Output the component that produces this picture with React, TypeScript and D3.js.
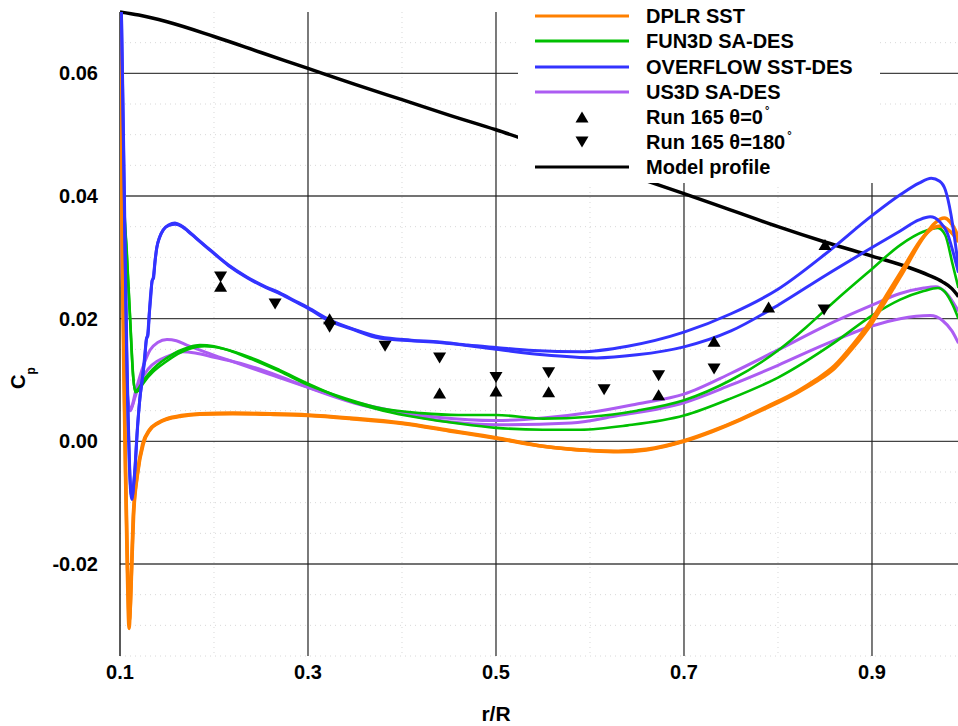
import React from "react";
import * as d3 from "d3";

const W = 958;
const H = 726;

// axis ticks
const xMajorTicks = [0.1, 0.3, 0.5, 0.7, 0.9];
const xTickLabels = ["0.1", "0.3", "0.5", "0.7", "0.9"];
const xMinorTicks = [0.2, 0.4, 0.6, 0.8];
const yMajorTicks = [-0.02, 0.0, 0.02, 0.04, 0.06];
const yTickLabels = ["-0.02", "0.00", "0.02", "0.04", "0.06"];
const yMinorTicks = [-0.035, -0.03, -0.025, -0.015, -0.01, -0.005, 0.005, 0.01, 0.015, 0.025, 0.03, 0.035, 0.045, 0.05, 0.055, 0.065];

// DPLR SST (two curves)
const dplrA: [number, number][] = [
  [0.1005, 0.07], [0.1012, 0.05], [0.1025, 0.03], [0.104, 0.012], [0.1058, -0.005], [0.1074, -0.018],
  [0.1088, -0.028], [0.1097, -0.0305], [0.1107, -0.028], [0.1122, -0.021], [0.114, -0.0125], [0.118, -0.0058],
  [0.124, -0.0005], [0.131, 0.0018], [0.14, 0.003], [0.15, 0.0037], [0.165, 0.0042], [0.185, 0.0045],
  [0.22, 0.0046], [0.26, 0.0045], [0.3, 0.0043], [0.345, 0.0038], [0.4, 0.003], [0.45, 0.0018], [0.5, 0.0006],
  [0.55, -0.0008], [0.6, -0.0015], [0.63, -0.0017], [0.66, -0.0014], [0.7, 0.0], [0.73, 0.0016], [0.76, 0.0035],
  [0.79, 0.0056], [0.82, 0.0079], [0.84, 0.0097], [0.86, 0.0119], [0.88, 0.0153], [0.9, 0.0193], [0.915, 0.023],
  [0.93, 0.0268], [0.955, 0.0333], [0.967, 0.0356], [0.977, 0.0364], [0.983, 0.0358], [0.988, 0.0346], [0.992, 0.0332],
];
const dplrB: [number, number][] = [
  [0.1005, 0.07], [0.1014, 0.05], [0.1028, 0.03], [0.1043, 0.012], [0.106, -0.005], [0.1077, -0.018],
  [0.1091, -0.027], [0.11, -0.0292], [0.111, -0.027], [0.1125, -0.0205], [0.1145, -0.012], [0.1185, -0.0055],
  [0.125, -0.0003], [0.132, 0.0019], [0.141, 0.003], [0.15, 0.0036], [0.165, 0.0041], [0.185, 0.0044],
  [0.22, 0.0045], [0.26, 0.0044], [0.3, 0.0042], [0.345, 0.0037], [0.4, 0.0029], [0.45, 0.0017], [0.5, 0.0005],
  [0.55, -0.0008], [0.6, -0.0015], [0.63, -0.0016], [0.66, -0.0013], [0.7, 0.0001], [0.73, 0.0017], [0.76, 0.0036],
  [0.79, 0.0058], [0.82, 0.0081], [0.84, 0.01], [0.86, 0.0123], [0.88, 0.0158], [0.9, 0.0199], [0.915, 0.0237],
  [0.93, 0.0274], [0.955, 0.0334], [0.965, 0.0348], [0.973, 0.0351], [0.98, 0.0346], [0.986, 0.0338], [0.992, 0.0325],
];

// FUN3D SA-DES (two curves)
const fun3dA: [number, number][] = [
  [0.1008, 0.07], [0.102, 0.055], [0.104, 0.04], [0.107, 0.031], [0.1106, 0.0203], [0.114, 0.0105],
  [0.116, 0.0082], [0.119, 0.0085], [0.124, 0.0097], [0.132, 0.0113], [0.14, 0.0125], [0.15, 0.0136],
  [0.162, 0.0147], [0.174, 0.0154], [0.185, 0.0157], [0.2, 0.0155], [0.22, 0.0146], [0.24, 0.0134],
  [0.27, 0.0114], [0.3, 0.0092], [0.34, 0.007], [0.38, 0.0053], [0.42, 0.0046], [0.46, 0.0043], [0.5, 0.0043],
  [0.55, 0.0037], [0.6, 0.004], [0.65, 0.005], [0.7, 0.0067], [0.75, 0.01], [0.8, 0.0148], [0.83, 0.0186],
  [0.86, 0.0228], [0.9, 0.0281], [0.93, 0.032], [0.955, 0.0342], [0.97, 0.0348], [0.978, 0.0336],
  [0.986, 0.0287], [0.992, 0.025],
];
const fun3dB: [number, number][] = [
  [0.1008, 0.07], [0.1022, 0.055], [0.1042, 0.04], [0.1072, 0.031], [0.1108, 0.02], [0.1142, 0.0103],
  [0.1162, 0.008], [0.12, 0.0083], [0.124, 0.0093], [0.15, 0.0131], [0.174, 0.0151], [0.19, 0.0155],
  [0.21, 0.0151], [0.24, 0.0136], [0.27, 0.0116], [0.3, 0.0094], [0.34, 0.0068], [0.38, 0.005], [0.42, 0.0038],
  [0.46, 0.0029], [0.5, 0.0022], [0.55, 0.0019], [0.59, 0.0019], [0.64, 0.0026], [0.7, 0.0042], [0.75, 0.007],
  [0.8, 0.0104], [0.86, 0.0161], [0.9, 0.0205], [0.93, 0.0231], [0.955, 0.0245], [0.97, 0.025], [0.978, 0.0243],
  [0.986, 0.0222], [0.992, 0.02],
];

// OVERFLOW SST-DES (two curves)
const overflowA: [number, number][] = [
  [0.1015, 0.07], [0.103, 0.055], [0.1045, 0.04], [0.1053, 0.031], [0.107, 0.015], [0.1085, 0.004],
  [0.11, -0.004], [0.1115, -0.0085], [0.1128, -0.0095], [0.1142, -0.0075], [0.116, -0.0042], [0.118, 0.001],
  [0.121, 0.0068], [0.124, 0.0105], [0.126, 0.0135], [0.128, 0.0165], [0.1295, 0.0175], [0.131, 0.0205],
  [0.1325, 0.0238], [0.134, 0.026], [0.1355, 0.0268], [0.137, 0.029], [0.139, 0.0315], [0.142, 0.0332],
  [0.146, 0.0345], [0.152, 0.0353], [0.1585, 0.0356], [0.165, 0.0352], [0.171, 0.0345], [0.18, 0.0333],
  [0.196, 0.0312], [0.215, 0.0288], [0.235, 0.0268], [0.255, 0.0252], [0.27, 0.0242], [0.285, 0.023],
  [0.3, 0.0218], [0.323, 0.0198], [0.35, 0.0182], [0.377, 0.017], [0.41, 0.0165], [0.44, 0.0162],
  [0.47, 0.0157], [0.5, 0.0153], [0.54, 0.0148], [0.59, 0.0146], [0.64, 0.0155], [0.7, 0.0178], [0.75, 0.0208],
  [0.8, 0.0248], [0.85, 0.0305], [0.9, 0.0368], [0.93, 0.0402], [0.95, 0.0421], [0.963, 0.0429], [0.972, 0.0424],
  [0.978, 0.041], [0.984, 0.037], [0.988, 0.033], [0.992, 0.0285],
];
const overflowB: [number, number][] = [
  [0.1015, 0.07], [0.1032, 0.055], [0.1047, 0.04], [0.1055, 0.031], [0.1072, 0.015], [0.1087, 0.004],
  [0.1102, -0.004], [0.1117, -0.0083], [0.113, -0.0092], [0.1144, -0.0073], [0.1162, -0.004], [0.1182, 0.0012],
  [0.1212, 0.007], [0.1242, 0.0107], [0.1262, 0.0132], [0.1282, 0.0168], [0.1297, 0.0172], [0.1312, 0.0208],
  [0.1327, 0.0235], [0.1342, 0.0262], [0.1357, 0.0266], [0.1372, 0.0292], [0.1392, 0.0316], [0.1422, 0.0333],
  [0.1462, 0.0345], [0.1522, 0.0352], [0.159, 0.0354], [0.166, 0.035], [0.172, 0.0343], [0.181, 0.0331],
  [0.197, 0.031], [0.216, 0.0286], [0.236, 0.0266], [0.256, 0.025], [0.271, 0.024], [0.286, 0.0228],
  [0.301, 0.0216], [0.323, 0.0196], [0.345, 0.0184], [0.377, 0.0168], [0.41, 0.0164], [0.44, 0.0161],
  [0.5, 0.015], [0.55, 0.0141], [0.607, 0.0136], [0.65, 0.0141], [0.7, 0.0154], [0.75, 0.018], [0.8, 0.0222],
  [0.85, 0.027], [0.9, 0.0316], [0.93, 0.0343], [0.95, 0.0361], [0.962, 0.0366], [0.972, 0.0358],
  [0.98, 0.034], [0.986, 0.031], [0.992, 0.0275],
];

// US3D SA-DES (two curves)
const us3dA: [number, number][] = [
  [0.1005, 0.07], [0.101, 0.055], [0.102, 0.031], [0.1035, 0.022], [0.105, 0.015], [0.107, 0.0095],
  [0.109, 0.0062], [0.1106, 0.0051], [0.113, 0.0058], [0.116, 0.0078], [0.121, 0.0105], [0.126, 0.0128],
  [0.132, 0.0149], [0.14, 0.0161], [0.15, 0.0166], [0.16, 0.0164], [0.171, 0.0157], [0.19, 0.0146],
  [0.22, 0.013], [0.26, 0.0109], [0.3, 0.0088], [0.345, 0.0066], [0.39, 0.005], [0.44, 0.0039], [0.5, 0.0034],
  [0.55, 0.0038], [0.6, 0.0047], [0.65, 0.0061], [0.7, 0.0077], [0.75, 0.0111], [0.8, 0.0149], [0.85, 0.0188],
  [0.9, 0.0222], [0.93, 0.0241], [0.955, 0.025], [0.968, 0.0252], [0.977, 0.0245], [0.984, 0.0232], [0.992, 0.0212],
];
const us3dB: [number, number][] = [
  [0.1005, 0.07], [0.101, 0.055], [0.102, 0.03], [0.1035, 0.02], [0.105, 0.013], [0.107, 0.008],
  [0.109, 0.0055], [0.111, 0.005], [0.113, 0.0057], [0.116, 0.0072], [0.121, 0.0095], [0.13, 0.0118],
  [0.14, 0.0131], [0.15, 0.0138], [0.167, 0.0146], [0.18, 0.0144], [0.2, 0.0137], [0.233, 0.0125],
  [0.27, 0.0106], [0.307, 0.0084], [0.35, 0.0062], [0.4, 0.0045], [0.45, 0.0032], [0.5, 0.0027], [0.58, 0.003],
  [0.63, 0.0042], [0.7, 0.0063], [0.75, 0.0092], [0.8, 0.0124], [0.85, 0.0158], [0.9, 0.0188], [0.93, 0.02],
  [0.962, 0.0205], [0.975, 0.0197], [0.985, 0.018], [0.992, 0.016],
];

// Model profile
const modelProfile: [number, number][] = [
  [0.1, 0.07], [0.12, 0.0695], [0.15, 0.0684], [0.2, 0.066], [0.25, 0.0634], [0.3, 0.0608], [0.35, 0.0582],
  [0.4, 0.0557], [0.45, 0.0532], [0.5, 0.0508], [0.55, 0.0482], [0.6, 0.0457], [0.65, 0.043], [0.7, 0.0404],
  [0.75, 0.0377], [0.8, 0.035], [0.85, 0.0325], [0.9, 0.0302], [0.94, 0.0283], [0.96, 0.0271], [0.975, 0.026],
  [0.985, 0.0249], [0.992, 0.0236],
];

// Run 165 measurements
const run0X = [0.207, 0.323, 0.44, 0.5, 0.556, 0.673, 0.732, 0.79, 0.85];
const run0Y = [0.0253, 0.02, 0.0079, 0.0082, 0.0081, 0.0076, 0.0163, 0.0219, 0.0321];
const run180X = [0.207, 0.265, 0.323, 0.382, 0.44, 0.5, 0.556, 0.615, 0.673, 0.732, 0.849];
const run180Y = [0.0268, 0.0224, 0.0186, 0.0155, 0.0136, 0.0104, 0.0112, 0.0084, 0.0107, 0.0118, 0.0214];

const ORANGE = "#ff8000";
const GREEN = "#00c000";
const BLUE = "#3333ff";
const PURPLE = "#ac5cf2";
const BLACK = "#000000";

const curves = [
  { data: modelProfile, color: BLACK, width: 3.5 },
  { data: us3dB, color: PURPLE, width: 3 },
  { data: us3dA, color: PURPLE, width: 3 },
  { data: fun3dB, color: GREEN, width: 2.6 },
  { data: fun3dA, color: GREEN, width: 2.6 },
  { data: dplrB, color: ORANGE, width: 3.5 },
  { data: dplrA, color: ORANGE, width: 3.5 },
  { data: overflowB, color: BLUE, width: 3 },
  { data: overflowA, color: BLUE, width: 3 },
];

const legendLines = [
  { label: "DPLR SST", color: ORANGE },
  { label: "FUN3D SA-DES", color: GREEN },
  { label: "OVERFLOW SST-DES", color: BLUE },
  { label: "US3D SA-DES", color: PURPLE },
];

const FONT = "'Liberation Sans', Arial, Helvetica, sans-serif";

function tri(cx: number, cy: number, up: boolean) {
  const w = 13;
  const h = 11;
  if (up) {
    return `M${cx - w / 2},${cy + h / 2}L${cx + w / 2},${cy + h / 2}L${cx},${cy - h / 2}Z`;
  }
  return `M${cx - w / 2},${cy - h / 2}L${cx + w / 2},${cy - h / 2}L${cx},${cy + h / 2}Z`;
}

export default function App() {
  const left = 120;
  const right = 958;
  const top = 12;
  const bottom = 656;
  const x = d3.scaleLinear().domain([0.1, 0.9915]).range([left, right]);
  const y = d3.scaleLinear().domain([-0.035, 0.07]).range([bottom, top]);
  const line = d3
    .line<[number, number]>()
    .x((d) => x(d[0]))
    .y((d) => y(d[1]))
    .curve(d3.curveMonotoneX);

  const legX = 535;
  const legRows = [16, 41, 67, 92, 117, 142, 167];

  return (
    <svg
      width={W}
      height={H}
      style={{ position: "absolute", left: 0, top: 0, background: "#fff" }}
      fontFamily={FONT}
    >
      <defs>
        <clipPath id="plotclip">
          <rect x={left} y={top - 2} width={right - left} height={bottom - top + 2} />
        </clipPath>
      </defs>
      <rect x={0} y={0} width={W} height={H} fill="#fff" />
      {/* minor grid */}
      {yMinorTicks.map((t) => (
        <line key={"ym" + t} x1={left} x2={right} y1={y(t)} y2={y(t)} stroke="#d8d8d8" strokeWidth={1} strokeDasharray="1,4" />
      ))}
      {xMinorTicks.map((t) => (
        <line key={"xm" + t} x1={x(t)} x2={x(t)} y1={top} y2={bottom} stroke="#d8d8d8" strokeWidth={1} strokeDasharray="1,4" />
      ))}
      {/* major grid */}
      {yMajorTicks.map((t) => (
        <line key={"yM" + t} x1={left} x2={right} y1={y(t)} y2={y(t)} stroke="#444" strokeWidth={1.3} />
      ))}
      {xMajorTicks.slice(1).map((t) => (
        <line key={"xM" + t} x1={x(t)} x2={x(t)} y1={top} y2={bottom} stroke="#222" strokeWidth={1.2} />
      ))}
      {/* left axis */}
      <line x1={left} x2={left} y1={top} y2={bottom} stroke="#000" strokeWidth={1.3} />

      {/* curves */}
      <g clipPath="url(#plotclip)">
        {curves.map((c, i) => (
          <path key={i} d={line(c.data) || ""} fill="none" stroke={c.color} strokeWidth={c.width} strokeLinejoin="round" />
        ))}
        {run0X.map((v, i) => (
          <path key={"u" + i} d={tri(x(v), y(run0Y[i]), true)} fill="#000" />
        ))}
        {run180X.map((v, i) => (
          <path key={"d" + i} d={tri(x(v), y(run180Y[i]), false)} fill="#000" />
        ))}
      </g>

      {/* tick labels */}
      {xMajorTicks.map((t, i) => (
        <text key={"xl" + t} x={x(t)} y={679} textAnchor="middle" fontSize={20} fontWeight="bold">
          {xTickLabels[i]}
        </text>
      ))}
      {yMajorTicks.map((t, i) => (
        <text key={"yl" + t} x={98} y={y(t) + 7} textAnchor="end" fontSize={20} fontWeight="bold">
          {yTickLabels[i]}
        </text>
      ))}
      {/* axis titles */}
      <text x={496} y={721} textAnchor="middle" fontSize={21} fontWeight="bold">
        r/R
      </text>
      <text transform="translate(25,389) rotate(-90)" fontSize={20} fontWeight="bold">
        C
        <tspan fontSize={12} dy={10}>
          p
        </tspan>
      </text>

      {/* legend */}
      <rect x={518} y={0} width={362} height={183} fill="#fff" />
      {legendLines.map((l, i) => (
        <g key={l.label}>
          <line x1={legX} x2={629} y1={legRows[i]} y2={legRows[i]} stroke={l.color} strokeWidth={3} />
          <text x={646} y={legRows[i] + 7} fontSize={20} fontWeight="bold">
            {l.label}
          </text>
        </g>
      ))}
      <path d={tri(582, legRows[4], true)} fill="#000" />
      <text x={646} y={legRows[4] + 7} fontSize={20} fontWeight="bold">
        Run 165 θ=0
        <tspan fontSize={11} dx={2} dy={-10}>°</tspan>
      </text>
      <path d={tri(582, legRows[5], false)} fill="#000" />
      <text x={646} y={legRows[5] + 7} fontSize={20} fontWeight="bold">
        Run 165 θ=180
        <tspan fontSize={11} dx={2} dy={-10}>°</tspan>
      </text>
      <line x1={legX} x2={629} y1={legRows[6]} y2={legRows[6]} stroke={BLACK} strokeWidth={3} />
      <text x={646} y={legRows[6] + 7} fontSize={20} fontWeight="bold">
        Model profile
      </text>
    </svg>
  );
}
